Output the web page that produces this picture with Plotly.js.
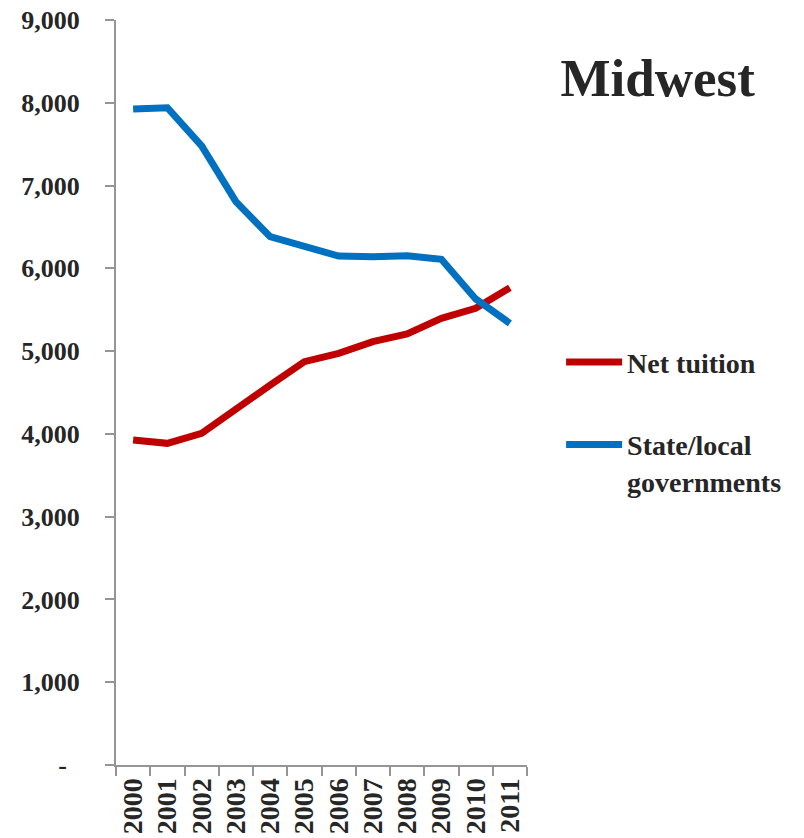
<!DOCTYPE html>
<html>
<head>
<meta charset="utf-8">
<script src="https://cdn.plot.ly/plotly-3.0.1.min.js"></script>
<style>html,body{margin:0;padding:0;background:#fff;}#chart{width:804px;height:838px;}</style>
</head>
<body>
<div id="chart"></div>
<script>
var years = ["2000","2001","2002","2003","2004","2005","2006","2007","2008","2009","2010","2011"];
var netTuition = [3926, 3886, 4007, 4305, 4590, 4872, 4973, 5114, 5207, 5396, 5517, 5766];
var stateLocal = [7925, 7940, 7480, 6805, 6382, 6273, 6149, 6140, 6153, 6109, 5630, 5336];
var yTickVals = [0, 1000, 2000, 3000, 4000, 5000, 6000, 7000, 8000, 9000];
var yTickText = ["-\u00a0\u00a0", "1,000", "2,000", "3,000", "4,000", "5,000", "6,000", "7,000", "8,000", "9,000"];
var seriesNames = ["Net tuition", "State/local<br>governments"];
var chartTitle = "Midwest";

var FONT = "'Liberation Serif', 'Times New Roman', serif";
var TXT = "#262626";
var AX = "#959595";

var traces = [
  {x: years, y: netTuition, type: "scatter", mode: "lines", name: seriesNames[0], legendgroup: "a",
   line: {color: "#C00000", width: 7}},
  {x: years, y: stateLocal, type: "scatter", mode: "lines", name: seriesNames[1], legendgroup: "b",
   line: {color: "#0070C0", width: 7}}
];

var layout = {
  width: 804, height: 838,
  margin: {l: 116, r: 277, t: 20, b: 73, pad: 0},
  paper_bgcolor: "#fff", plot_bgcolor: "#fff",
  font: {family: FONT, color: TXT, size: 26},
  title: {text: "<b>" + chartTitle + "</b>", font: {family: FONT, size: 53, color: TXT},
          xref: "container", yref: "container", x: 0.818, xanchor: "center", y: 0.907, yanchor: "middle"},
  xaxis: {type: "category", range: [-0.5, 11.5], tickson: "boundaries", ticks: "outside", ticklen: 9,
          tickwidth: 2, tickcolor: AX, showline: true, linecolor: AX, linewidth: 2, showgrid: false,
          zeroline: false, tickangle: -90, tickfont: {family: FONT, size: 28, color: TXT, weight: "bold"},
          fixedrange: true},
  yaxis: {range: [0, 9000], tickvals: yTickVals, ticktext: yTickText, ticks: "outside", ticklen: 9,
          tickwidth: 2, tickcolor: AX, showline: true, linecolor: AX, linewidth: 2, showgrid: false,
          zeroline: false, ticklabelstandoff: 20,
          tickfont: {family: FONT, size: 26, color: TXT, weight: "bold"}, fixedrange: true},
  showlegend: true,
  legend: {x: 1.083, xanchor: "left", y: 0.574, yanchor: "top", xref: "paper", yref: "paper",
           bgcolor: "rgba(0,0,0,0)", borderwidth: 0, traceorder: "grouped", tracegroupgap: 43,
           itemwidth: 56, valign: "top",
           font: {family: FONT, size: 28, color: TXT, weight: "bold"}}
};

Plotly.newPlot("chart", traces, layout, {displayModeBar: false, staticPlot: true});
</script>
</body>
</html>
